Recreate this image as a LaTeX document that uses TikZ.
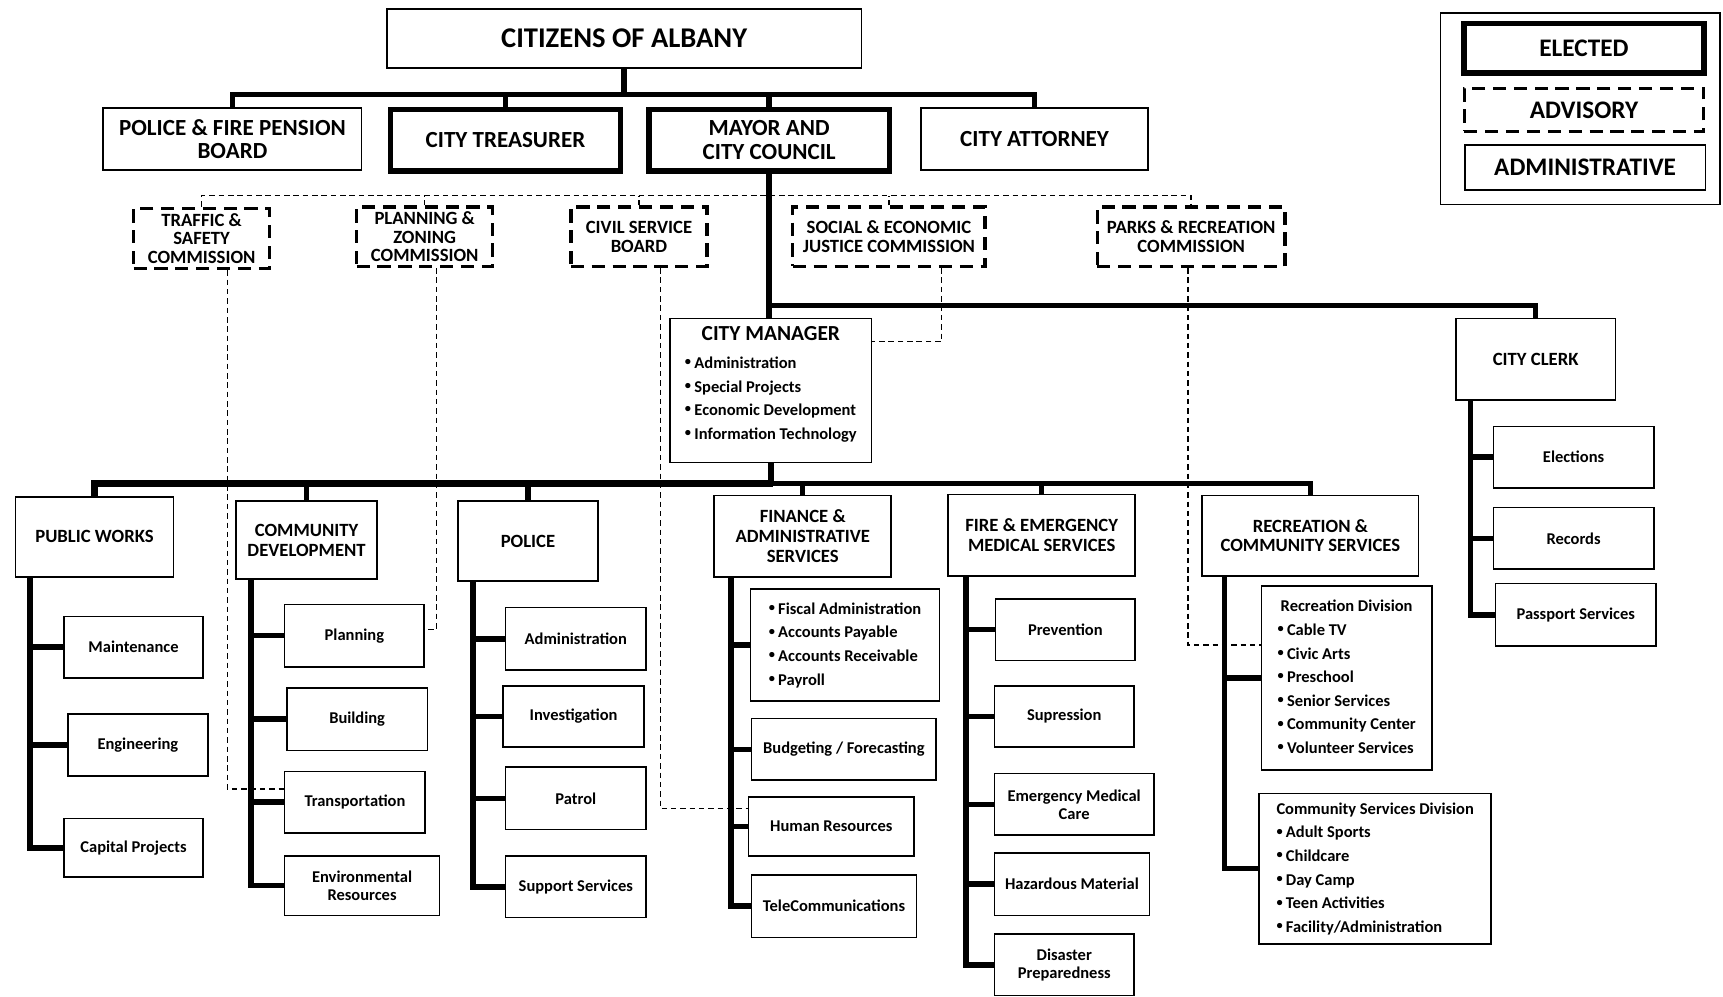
\documentclass[tikz,border=0pt]{standalone}
\usepackage{fontspec}
\usepackage{graphicx}
\setmainfont{Carlito}
\newcommand{\citizenfont}{\fontsize{26}{28}\selectfont\bfseries}
\newcommand{\boardfont}{\fontsize{21}{21.5}\selectfont\bfseries}
\newcommand{\advfont}{\fontsize{17}{17}\selectfont\bfseries}
\newcommand{\deptfont}{\fontsize{17}{18}\selectfont\bfseries}
\newcommand{\mgrfont}{\fontsize{19.5}{22}\selectfont\bfseries}
\newcommand{\unitfont}{\fontsize{15}{16.5}\selectfont\bfseries}
\newcommand{\listfont}{\fontsize{15}{21.5}\selectfont\bfseries}
\newcommand{\keyfont}{\fontsize{23}{25}\selectfont\bfseries}
\newcommand{\dotitem}{\raisebox{2.5pt}{\scalebox{0.75}{\textbullet}}\hspace{3pt}}

\begin{document}
\begin{tikzpicture}[x=1pt, y=-1pt,
	wh/.style 2 args={minimum width=#1pt, minimum height=#2pt},
	admin/.style={draw, line width=1.5pt, align=center, inner sep=1pt, font=\deptfont},
	unit/.style={admin, font=\unitfont},
	elected/.style={draw, line width=5pt, align=center, inner sep=1pt, font=\boardfont},
	advisory/.style={draw, line width=3pt, dash pattern=on 12pt off 7pt, align=center, inner sep=1pt, font=\advfont},
	orgline/.style={line width=5pt},
	advline/.style={line width=1.3pt, dash pattern=on 5pt off 3.5pt}]
	\fill[white] (0,0) rectangle (1568,907);
	\useasboundingbox (0,0) rectangle (1568,907);

	% citizens and elected offices
	\node[admin, font=\citizenfont, wh={432}{54}] (citizens) at (568,35) {CITIZENS OF ALBANY};
	\node[admin, font=\boardfont, wh={235}{57}] (pension) at (211.5,126.5) {POLICE \& FIRE PENSION\\BOARD};
	\node[elected, wh={209}{56}] (treasurer) at (460,127.5) {CITY TREASURER};
	\node[elected, wh={219}{56}] (mayor) at (700,127.5) {MAYOR AND\\CITY COUNCIL};
	\node[admin, font=\boardfont, wh={207}{57}] (attorney) at (941.5,126.5) {CITY ATTORNEY};

	% legend
	\node[draw, line width=1.5pt, wh={254}{174}] (legend) at (1438,99) {};
	\node[elected, font=\keyfont, wh={218}{45}] (keyelected) at (1441.5,44) {ELECTED};
	\node[advisory, font=\keyfont, wh={218}{39}] (keyadvisory) at (1441.5,100) {ADVISORY};
	\node[admin, font=\keyfont, wh={219}{41}] (keyadmin) at (1442.5,152.5) {ADMINISTRATIVE};

	% advisory boards
	\node[advisory, wh={124}{55}] (traffic) at (183.5,217) {TRAFFIC \&\\SAFETY\\COMMISSION};
	\node[advisory, wh={124}{54}] (planning) at (386.5,215.5) {PLANNING \&\\ZONING\\COMMISSION};
	\node[advisory, wh={124}{54}] (civil) at (581.5,215.5) {CIVIL SERVICE\\BOARD};
	\node[advisory, wh={175}{54}] (social) at (809,215.5) {SOCIAL \& ECONOMIC\\JUSTICE COMMISSION};
	\node[advisory, wh={171}{54}] (parks) at (1084,215.5) {PARKS \& RECREATION\\COMMISSION};

	% manager and clerk
	\node[admin, font=\listfont, wh={183}{131}] (manager) at (701.5,355.5) {\begin{tabular}{@{}l@{}}
		\multicolumn{1}{@{}c@{}}{\mgrfont CITY MANAGER}\\[4pt]
		\dotitem Administration\\
		\dotitem Special Projects\\
		\dotitem Economic Development\\
		\dotitem Information Technology\\[10pt]
	\end{tabular}};
	\node[admin, wh={145}{74}] (clerk) at (1397.5,327) {CITY CLERK};

	% departments
	\node[admin, wh={144}{73}] (pubworks) at (86,488.5) {PUBLIC WORKS};
	\node[admin, wh={128}{71}] (commdev) at (279,491.5) {COMMUNITY\\DEVELOPMENT};
	\node[admin, wh={127}{73}] (police) at (480.5,492.5) {POLICE};
	\node[admin, wh={161}{74}] (finance) at (730.5,488) {FINANCE \&\\ADMINISTRATIVE\\SERVICES};
	\node[admin, wh={170}{74}] (fire) at (948,487) {FIRE \& EMERGENCY\\MEDICAL SERVICES};
	\node[admin, wh={197}{73}] (recreation) at (1192.5,487.5) {RECREATION \&\\COMMUNITY SERVICES};

	% divisions
	\node[unit, wh={127}{56}] (maint) at (121.5,589) {Maintenance};
	\node[unit, wh={127}{56}] (eng) at (125.5,678) {Engineering};
	\node[unit, wh={127}{53}] (capital) at (121.5,771.5) {Capital Projects};

	\node[unit, wh={127}{57}] (planningdiv) at (322.5,578.5) {Planning};
	\node[unit, wh={128}{57}] (building) at (325,654.5) {Building};
	\node[unit, wh={128}{56}] (transport) at (323,730) {Transportation};
	\node[unit, wh={141}{54}] (environ) at (329.5,806) {Environmental\\Resources};

	\node[unit, wh={128}{57}] (policeadmin) at (524,581.5) {Administration};
	\node[unit, wh={128}{56}] (invest) at (522,652) {Investigation};
	\node[unit, wh={128}{57}] (patrol) at (524,726.5) {Patrol};
	\node[unit, wh={128}{56}] (support) at (524,807) {Support Services};

	\node[unit, font=\listfont, wh={172}{102}] (fiscal) at (769,587) {\begin{tabular}{@{}l@{}}
		\dotitem Fiscal Administration\\
		\dotitem Accounts Payable\\
		\dotitem Accounts Receivable\\
		\dotitem Payroll
	\end{tabular}};
	\node[unit, wh={168}{56}] (budget) at (768,682) {Budgeting / Forecasting};
	\node[unit, wh={151}{54}] (hr) at (756.5,752) {Human Resources};
	\node[unit, wh={150}{57}] (telecom) at (759,824.5) {TeleCommunications};

	\node[unit, wh={127}{56}] (prevent) at (969.5,573) {Prevention};
	\node[unit, wh={127}{56}] (suppress) at (968.5,652) {Supression};
	\node[unit, wh={145}{56}] (ems) at (977.5,732) {Emergency Medical\\Care};
	\node[unit, wh={141}{57}] (hazmat) at (975.5,804.5) {Hazardous Material};
	\node[unit, wh={127}{56}] (disaster) at (968.5,878) {Disaster\\Preparedness};

	\node[unit, font=\listfont, wh={155}{168}] (recdiv) at (1225.5,617) {\begin{tabular}{@{}l@{}}
		\multicolumn{1}{@{}c@{}}{Recreation Division}\\
		\dotitem Cable TV\\
		\dotitem Civic Arts\\
		\dotitem Preschool\\
		\dotitem Senior Services\\
		\dotitem Community Center\\
		\dotitem Volunteer Services
	\end{tabular}};
	\node[unit, font=\listfont, wh={211}{137}] (comdiv) at (1251.5,790.5) {\begin{tabular}{@{}l@{}}
		\multicolumn{1}{@{}c@{}}{Community Services Division}\\
		\dotitem Adult Sports\\
		\dotitem Childcare\\
		\dotitem Day Camp\\
		\dotitem Teen Activities\\
		\dotitem Facility/Administration
	\end{tabular}};

	\node[unit, wh={146}{56}] (elections) at (1432,416) {Elections};
	\node[unit, wh={146}{56}] (records) at (1432,490) {Records};
	\node[unit, wh={146}{57}] (passport) at (1434,559.5) {Passport Services};

	% reporting lines
	\coordinate (topbus) at (568,86);
	\draw[orgline] (citizens.south) -- (topbus);
	\draw[orgline] (pension.north) |- (topbus) -| (attorney.north);
	\draw[orgline] (treasurer.north) -- (treasurer.north |- topbus);
	\draw[orgline] (mayor.north) -- (mayor.north |- topbus);

	\coordinate (mgrbus) at (700,278);
	\draw[orgline] (mayor.south) -- (mayor.south |- manager.north);
	\draw[orgline] (mgrbus) -| (clerk.north);

	\coordinate (deptbus) at (703,440);
	\draw[orgline, line width=7pt] (pubworks.north) |- (deptbus);
	\draw[orgline] (manager.south) |- (deptbus) -| (recreation.north);
	\draw[orgline] (commdev.north) -- (commdev.north |- deptbus);
	\draw[orgline] (police.north) -- (police.north |- deptbus);
	\draw[orgline] (finance.north) -- (finance.north |- deptbus);
	\draw[orgline] (fire.north) -- (fire.north |- deptbus);

	\coordinate (pwspine) at ([xshift=14pt]pubworks.south west);
	\draw[orgline] (pwspine) |- (capital.west) (maint.west) -- (maint.west -| pwspine) (eng.west) -- (eng.west -| pwspine);
	\coordinate (cdspine) at ([xshift=14pt]commdev.south west);
	\draw[orgline] (cdspine) |- (environ.west) (planningdiv.west) -- (planningdiv.west -| cdspine) (building.west) -- (building.west -| cdspine) (transport.west) -- (transport.west -| cdspine);
	\coordinate (pdspine) at ([xshift=14pt]police.south west);
	\draw[orgline] (pdspine) |- (support.west) (policeadmin.west) -- (policeadmin.west -| pdspine) (invest.west) -- (invest.west -| pdspine) (patrol.west) -- (patrol.west -| pdspine);
	\coordinate (fnspine) at ([xshift=16pt]finance.south west);
	\draw[orgline] (fnspine) |- (telecom.west) (fiscal.west) -- (fiscal.west -| fnspine) (budget.west) -- (budget.west -| fnspine) (hr.west) -- (hr.west -| fnspine);
	\coordinate (frspine) at ([xshift=17pt]fire.south west);
	\draw[orgline] (frspine) |- (disaster.west) (prevent.west) -- (prevent.west -| frspine) (suppress.west) -- (suppress.west -| frspine) (ems.west) -- (ems.west -| frspine) (hazmat.west) -- (hazmat.west -| frspine);
	\coordinate (rcspine) at ([xshift=21pt]recreation.south west);
	\draw[orgline] (rcspine) |- (comdiv.west) (recdiv.west) -- (recdiv.west -| rcspine);
	\coordinate (ckspine) at ([xshift=14pt]clerk.south west);
	\draw[orgline] (ckspine) |- (passport.west) (elections.west) -- (elections.west -| ckspine) (records.west) -- (records.west -| ckspine);

	% advisory lines
	\coordinate (advbus) at (700,178);
	\draw[advline] (traffic.north) |- (advbus) -| (parks.north);
	\draw[advline] (planning.north) -- (planning.north |- advbus);
	\draw[advline] (civil.north) -- (civil.north |- advbus);
	\draw[advline] (social.north) -- (social.north |- advbus);
	\draw[advline] ([xshift=23.5pt]traffic.south) |- ([yshift=12pt]transport.west);
	\draw[advline] ([xshift=10.5pt]planning.south) |- ([yshift=5.5pt]planningdiv.east);
	\draw[advline] ([xshift=19.5pt]civil.south) |- ([yshift=16pt]hr.west);
	\draw[advline] ([xshift=48pt]social.south) |- ([yshift=44.5pt]manager.east);
	\draw[advline] ([xshift=-3pt]parks.south) |- ([yshift=30pt]recdiv.west);
\end{tikzpicture}
\end{document}
